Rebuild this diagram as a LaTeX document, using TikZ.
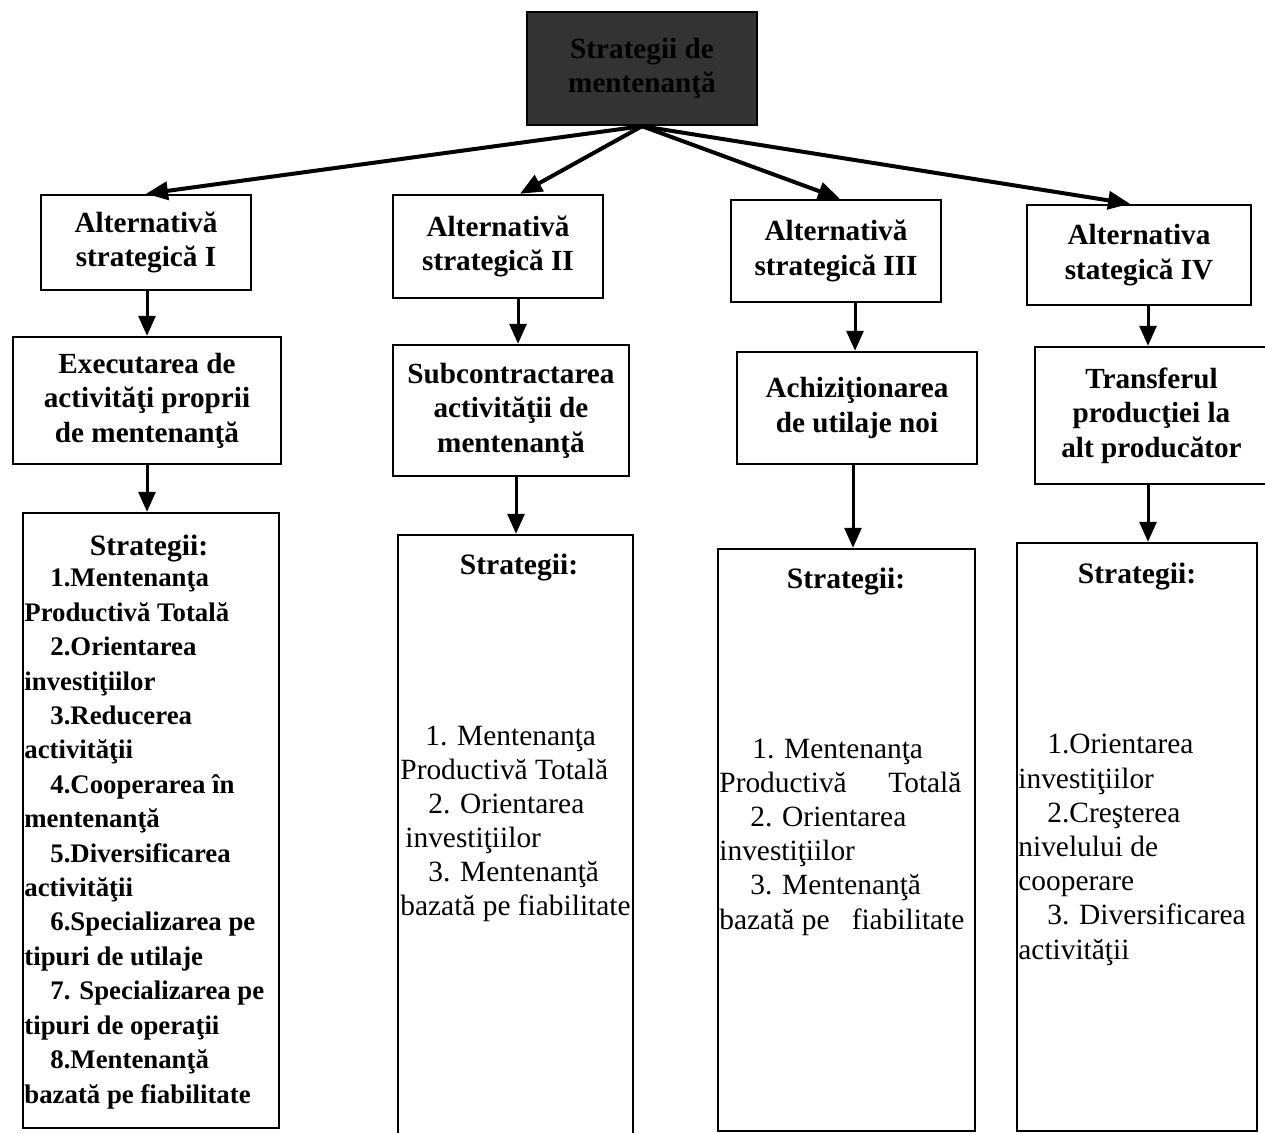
\documentclass[tikz,border=0pt]{standalone}
\usepackage{fontspec}
\setmainfont{Liberation Serif}
\usetikzlibrary{arrows.meta}
\begin{document}
\begin{tikzpicture}[x=0.5pt,y=-0.5pt,
  box/.style={draw=black, line width=1.2pt, rectangle, inner sep=0pt, align=center,
    font=\bfseries\fontsize{14.6}{17.25}\selectfont},
  arr/.style={line width=1.5pt, -{Triangle[length=10pt,width=8.5pt]}},
  fan/.style={line width=2pt, -{Triangle[length=11pt,width=9pt]}},
  lst/.style={anchor=base west, inner sep=0pt, font=\fontsize{14.7}{17.25}\selectfont},
  lstb/.style={anchor=base west, inner sep=0pt, font=\bfseries\fontsize{13.4}{17.25}\selectfont},
  head/.style={anchor=base, inner sep=0pt, font=\bfseries\fontsize{14.8}{17.25}\selectfont},
]
\clip (0,0) rectangle (1265,1133);
\fill[white] (0,0) rectangle (1265,1133);

% root
\node[box, fill=black!80, text=black, minimum width=115pt, minimum height=56.5pt] (top) at (642,68.5) {Strategii de\\mentenanţă};

% strategic alternatives
\node[box, minimum width=105pt, minimum height=47.5pt] (alt1) at (146,242.5) {Alternativă\\strategică I};
\node[box, minimum width=105pt, minimum height=51.5pt] (alt2) at (498,246.5) {Alternativă\\strategică II};
\node[box, minimum width=105pt, minimum height=51pt]   (alt3) at (836,251)   {Alternativă\\strategică III};
\node[box, minimum width=112pt, minimum height=50pt]   (alt4) at (1139,255)  {Alternativa\\stategică IV};

% what each alternative means
\node[box, minimum width=134pt, minimum height=63.5pt] (exe) at (147,400.5) {Executarea de\\activităţi proprii\\de mentenanţă};
\node[box, minimum width=118pt, minimum height=65.5pt] (sub) at (511,410.5) {Subcontractarea\\activităţii de\\mentenanţă};
\node[box, minimum width=120pt, minimum height=56pt]   (ach) at (857,408)   {Achiziţionarea\\de utilaje noi};
\node[box, minimum width=116.5pt, minimum height=68.5pt] (tra) at (1151.5,415.5) {Transferul\\producţiei la\\alt producător};

% strategy boxes
\node[box, minimum width=128pt, minimum height=307.5pt] (str1) at (151,820.5) {};
\node[box, minimum width=117.5pt, minimum height=305pt] (str2) at (515.5,840) {};
\node[box, minimum width=128.5pt, minimum height=291pt] (str3) at (846.5,840) {};
\node[box, minimum width=120pt, minimum height=294pt]   (str4) at (1137,837) {};

% connectors from the root
\draw[fan] (top.south) -- (alt1.north);
\draw[fan] (top.south) -- (alt2.north -| 520,0);
\draw[fan] (top.south) -- (alt3.north -| 840,0);
\draw[fan] (top.south) -- (alt4.north -| 1130,0);

% vertical connectors
\draw[arr] (alt1.south -| 147,0) -- (exe.north -| 147,0);
\draw[arr] (exe.south -| 147,0) -- (str1.north -| 147,0);
\draw[arr] (alt2.south -| 518,0) -- (sub.north -| 518,0);
\draw[arr] (sub.south -| 516,0) -- (str2.north -| 516,0);
\draw[arr] (alt3.south -| 855,0) -- (ach.north -| 855,0);
\draw[arr] (ach.south -| 853,0) -- (str3.north -| 853,0);
\draw[arr] (alt4.south -| 1148,0) -- (tra.north -| 1148,0);
\draw[arr] (tra.south -| 1148,0) -- (str4.north -| 1148,0);

% strategy lists
\node[head] (h1) at (149,556) {Strategii:};
\foreach \dx/\t [count=\i from 0] in {
  26/{1.Mentenanţa}, 0/{Productivă Totală},
  26/{2.Orientarea}, 0/{investiţiilor},
  26/{3.Reducerea}, 0/{activităţii},
  26/{4.Cooperarea în}, 0/{mentenanţă},
  26/{5.Diversificarea}, 0/{activităţii},
  26/{6.Specializarea pe}, 0/{tipuri de utilaje},
  26/{7. Specializarea pe}, 0/{tipuri de operaţii},
  26/{8.Mentenanţă}, 0/{bazată pe fiabilitate}}
  \node[lstb] (l1-\i) at (24+\dx,587+34.4*\i) {\t};

\node[head] (h2) at (519,575) {Strategii:};
\foreach \dx/\t [count=\i from 0] in {
  25/{1. Mentenanţa}, 0/{Productivă Totală},
  28/{2. Orientarea}, 5/{investiţiilor},
  28/{3. Mentenanţă}, 0/{bazată pe fiabilitate}}
  \node[lst] (l2-\i) at (400+\dx,746+34*\i) {\t};

\node[head] (h3) at (846,589) {Strategii:};
\foreach \dx/\t [count=\i from 0] in {
  33/{1. Mentenanţa}, 0/{\hbox to 121pt{Productivă\hfill Totală}},
  31/{2. Orientarea}, 0/{investiţiilor},
  31/{3. Mentenanţă}, 0/{\hbox to 122.5pt{bazată pe\hfill fiabilitate}}}
  \node[lst] (l3-\i) at (719+\dx,759+34*\i) {\t};

\node[head] (h4) at (1137,584) {Strategii:};
\foreach \dx/\t [count=\i from 0] in {
  29/{1.Orientarea}, 0/{investiţiilor},
  29/{2.Creşterea}, 0/{nivelului de},
  0/{cooperare}, 29/{3. Diversificarea},
  0/{activităţii}}
  \node[lst] (l4-\i) at (1018+\dx,754+34.2*\i) {\t};
\end{tikzpicture}
\end{document}
